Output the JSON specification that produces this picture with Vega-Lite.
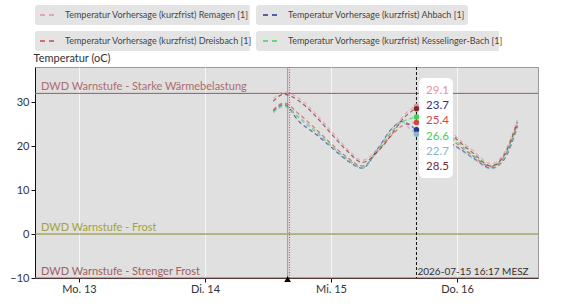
{
  "$schema": "https://vega.github.io/schema/vega-lite/v6.json",
  "width": 503,
  "height": 211,
  "autosize": {"type": "none"},
  "padding": {"left": 35, "top": 67, "right": 24, "bottom": 26},
  "background": "#ffffff",
  "config": {
    "font": "Lato",
    "view": {"fill": "#e0e0e0", "stroke": "#9a9a9a", "strokeWidth": 1},
    "axis": {"labelFont": "Lato", "titleFont": "Lato", "labelColor": "#333333", "titleColor": "#333333", "domainColor": "#111111", "tickColor": "#111111", "labelFontSize": 11, "titleFontSize": 11, "titleFontWeight": "normal", "tickSize": 4}
  },
  "datasets": {
    "forecast": [
      {"t": "2026-07-14T13:00", "Remagen": 30.8, "Serie 6": 30.2, "Dreisbach": 28.3, "Kesselinger-Bach": 27.8, "Ahbach": 28.0, "Serie 5": 27.5},
      {"t": "2026-07-14T15:00", "Remagen": 32.3, "Serie 6": 31.8, "Dreisbach": 29.8, "Kesselinger-Bach": 29.2, "Ahbach": 29.5, "Serie 5": 29.0},
      {"t": "2026-07-14T18:00", "Remagen": 30.8, "Serie 6": 30.2, "Dreisbach": 27.2, "Kesselinger-Bach": 26.5, "Ahbach": 25.5, "Serie 5": 26.2},
      {"t": "2026-07-14T21:00", "Remagen": 27.5, "Serie 6": 26.9, "Dreisbach": 24.0, "Kesselinger-Bach": 23.5, "Ahbach": 22.8, "Serie 5": 23.2},
      {"t": "2026-07-15T00:00", "Remagen": 23.5, "Serie 6": 22.9, "Dreisbach": 20.6, "Kesselinger-Bach": 20.2, "Ahbach": 19.8, "Serie 5": 20.0},
      {"t": "2026-07-15T03:00", "Remagen": 19.5, "Serie 6": 19.0, "Dreisbach": 17.5, "Kesselinger-Bach": 17.2, "Ahbach": 16.8, "Serie 5": 17.0},
      {"t": "2026-07-15T06:00", "Remagen": 16.8, "Serie 6": 16.3, "Dreisbach": 15.5, "Kesselinger-Bach": 15.2, "Ahbach": 15.0, "Serie 5": 15.0},
      {"t": "2026-07-15T09:00", "Remagen": 19.5, "Serie 6": 18.9, "Dreisbach": 19.0, "Kesselinger-Bach": 19.3, "Ahbach": 19.6, "Serie 5": 19.5},
      {"t": "2026-07-15T12:00", "Remagen": 24.0, "Serie 6": 23.4, "Dreisbach": 23.0, "Kesselinger-Bach": 23.8, "Ahbach": 24.5, "Serie 5": 24.5},
      {"t": "2026-07-15T13:30", "Remagen": 26.5, "Serie 6": 25.9, "Dreisbach": 24.6, "Kesselinger-Bach": 25.5, "Ahbach": 25.6, "Serie 5": 25.5},
      {"t": "2026-07-15T15:00", "Remagen": 28.2, "Serie 6": 27.6, "Dreisbach": 25.1, "Kesselinger-Bach": 26.2, "Ahbach": 24.8, "Serie 5": 24.0},
      {"t": "2026-07-15T16:17", "Remagen": 29.1, "Serie 6": 28.5, "Dreisbach": 25.4, "Kesselinger-Bach": 26.6, "Ahbach": 23.7, "Serie 5": 22.7},
      {"t": "2026-07-15T18:00", "Remagen": 28.3, "Serie 6": 27.8, "Dreisbach": 25.0, "Kesselinger-Bach": 26.0, "Ahbach": 23.0, "Serie 5": 22.3},
      {"t": "2026-07-15T21:00", "Remagen": 25.8, "Serie 6": 25.3, "Dreisbach": 23.4, "Kesselinger-Bach": 24.0, "Ahbach": 21.8, "Serie 5": 21.4},
      {"t": "2026-07-16T00:00", "Remagen": 22.0, "Serie 6": 21.5, "Dreisbach": 20.5, "Kesselinger-Bach": 21.0, "Ahbach": 19.8, "Serie 5": 19.6},
      {"t": "2026-07-16T03:00", "Remagen": 19.0, "Serie 6": 18.5, "Dreisbach": 17.8, "Kesselinger-Bach": 18.0, "Ahbach": 17.4, "Serie 5": 17.2},
      {"t": "2026-07-16T06:30", "Remagen": 16.0, "Serie 6": 15.5, "Dreisbach": 15.3, "Kesselinger-Bach": 15.5, "Ahbach": 15.0, "Serie 5": 14.8},
      {"t": "2026-07-16T09:00", "Remagen": 18.5, "Serie 6": 18.0, "Dreisbach": 17.5, "Kesselinger-Bach": 17.8, "Ahbach": 17.0, "Serie 5": 17.2},
      {"t": "2026-07-16T11:30", "Remagen": 26.0, "Serie 6": 25.5, "Dreisbach": 25.0, "Kesselinger-Bach": 24.8, "Ahbach": 24.5, "Serie 5": 24.0}
    ],
    "warnings": [
      {"label": "DWD Warnstufe - Starke Wärmebelastung", "value": 32},
      {"label": "DWD Warnstufe - Frost", "value": 0},
      {"label": "DWD Warnstufe - Strenger Frost", "value": -10}
    ],
    "events": [
      {"event": "Datenstand", "t": "2026-07-14T15:44", "label": ""},
      {"event": "Jetzt", "t": "2026-07-15T16:17", "label": "2026-07-15 16:17 MESZ"}
    ],
    "tooltip": [
      {"s": "Remagen", "v": 29.1, "t": "2026-07-15T16:17"},
      {"s": "Ahbach", "v": 23.7, "t": "2026-07-15T16:17"},
      {"s": "Dreisbach", "v": 25.4, "t": "2026-07-15T16:17"},
      {"s": "Kesselinger-Bach", "v": 26.6, "t": "2026-07-15T16:17"},
      {"s": "Serie 5", "v": 22.7, "t": "2026-07-15T16:17"},
      {"s": "Serie 6", "v": 28.5, "t": "2026-07-15T16:17"}
    ]
  },
  "encoding": {
    "x": {"type": "temporal",
      "scale": {"domain": [{"year": 2026, "month": 7, "date": 12, "hours": 15, "minutes": 37}, {"year": 2026, "month": 7, "date": 16, "hours": 15, "minutes": 26}]},
      "axis": {"values": [{"year": 2026, "month": 7, "date": 13}, {"year": 2026, "month": 7, "date": 14}, {"year": 2026, "month": 7, "date": 15}, {"year": 2026, "month": 7, "date": 16}],
        "labelExpr": "['So.','Mo.','Di.','Mi.','Do.','Fr.','Sa.'][day(datum.value)] + ' ' + date(datum.value)",
        "grid": true, "gridColor": "#ffffff", "gridOpacity": 0.7, "labelPadding": 1, "title": null}}
  },
  "layer": [
    {
      "data": {"name": "warnings"},
      "mark": {"type": "rule", "strokeWidth": 1},
      "encoding": {
        "x": null,
        "y": {"field": "value", "type": "quantitative", "scale": {"domain": [-10, 38], "nice": false, "zero": false},
          "axis": {"values": [-10, 0, 10, 20, 30], "grid": false, "labelPadding": 2, "title": "Temperatur (oC)", "titleAngle": 0, "titleAlign": "left", "titleX": -2, "titleY": -6, "titleBaseline": "alphabetic"}},
        "color": {"condition": [{"test": "datum.value == 32", "value": "#9e5c5c"}, {"test": "datum.value == 0", "value": "#86862e"}], "value": "#9e5c5c"}
      }
    },
    {
      "data": {"name": "warnings"},
      "mark": {"type": "text", "align": "left", "baseline": "alphabetic", "dx": 6, "dy": -3, "fontSize": 11},
      "encoding": {
        "x": {"datum": {"year": 2026, "month": 7, "date": 12, "hours": 15, "minutes": 37}, "type": "temporal"},
        "y": {"field": "value", "type": "quantitative"},
        "text": {"field": "label"},
        "color": {"condition": [{"test": "datum.value == 32", "value": "#ad6c6c"}, {"test": "datum.value == 0", "value": "#a3a23a"}], "value": "#a35e62"}
      }
    },
    {
      "data": {"name": "events"},
      "transform": [{"filter": "datum.event == 'Datenstand'"}],
      "mark": {"type": "rule", "color": "#d68aa4", "strokeWidth": 1.2},
      "encoding": {"x": {"field": "t", "type": "temporal"}}
    },
    {
      "data": {"name": "events"},
      "transform": [{"filter": "datum.event == 'Datenstand'"}],
      "mark": {"type": "rule", "color": "#a05878", "strokeWidth": 1, "strokeDash": [1, 1.5], "xOffset": 2},
      "encoding": {"x": {"field": "t", "type": "temporal"}}
    },
    {
      "data": {"name": "tooltip"},
      "transform": [{"filter": "datum.s != 'Serie 5' && datum.s != 'Serie 6'"}],
      "mark": {"type": "point", "filled": true, "opacity": 0, "color": "#e4e4e4", "size": 225},
      "encoding": {
        "x": {"field": "t", "type": "temporal"},
        "y": {"field": "v", "type": "quantitative"},
        "shape": {"field": "s", "type": "nominal",
          "scale": {"domain": ["Remagen", "Ahbach", "Dreisbach", "Kesselinger-Bach"],
            "range": [
              "M-1.133,-1.333H27Q27.4,-1.333 27.4,-0.933V0.933Q27.4,1.333 27,1.333H-1.133Q-1.533,1.333 -1.533,0.933V-0.933Q-1.533,-1.333 -1.133,-1.333Z",
              "M-1.133,-1.333H26.33Q26.73,-1.333 26.73,-0.933V0.933Q26.73,1.333 26.33,1.333H-1.133Q-1.533,1.333 -1.533,0.933V-0.933Q-1.533,-1.333 -1.133,-1.333Z",
              "M-1.133,-1.333H28.07Q28.47,-1.333 28.47,-0.933V0.933Q28.47,1.333 28.07,1.333H-1.133Q-1.533,1.333 -1.533,0.933V-0.933Q-1.533,-1.333 -1.133,-1.333Z",
              "M-1.133,-1.333H31.93Q32.33,-1.333 32.33,-0.933V0.933Q32.33,1.333 31.93,1.333H-1.133Q-1.533,1.333 -1.533,0.933V-0.933Q-1.533,-1.333 -1.133,-1.333Z"
            ]},
          "legend": {
            "orient": "none", "legendX": 0, "legendY": -62, "columns": 2, "direction": "horizontal", "title": null, "padding": 0, "zindex": 0,
            "labelExpr": "'Temperatur Vorhersage (kurzfrist) ' + datum.label + ' [1]'",
            "symbolSize": 225, "symbolStrokeWidth": 0, "symbolFillColor": "#e4e4e4", "symbolStrokeColor": "#e4e4e4", "symbolOpacity": 1, "symbolOffset": 4,
            "labelFont": "Lato", "labelFontSize": 9, "labelColor": "#e4e4e4", "labelOpacity": 0, "labelOffset": 9, "labelLimit": 400,
            "clipHeight": 20, "rowPadding": 6, "columnPadding": 6
          }}
      }
    },
    {
      "data": {"name": "forecast"},
      "transform": [{"fold": ["Remagen", "Ahbach", "Dreisbach", "Kesselinger-Bach", "Serie 5", "Serie 6"], "as": ["s", "v"]}],
      "mark": {"type": "line", "interpolate": "monotone", "strokeDash": [4, 3], "strokeWidth": 1.2, "opacity": 0.7},
      "encoding": {
        "x": {"field": "t", "type": "temporal"},
        "y": {"field": "v", "type": "quantitative"},
        "color": {"field": "s", "type": "nominal",
          "scale": {"domain": ["Remagen", "Ahbach", "Dreisbach", "Kesselinger-Bach", "Serie 5", "Serie 6"], "range": ["#e8909e", "#26348a", "#d24545", "#3fd34a", "#86b7cc", "#7a2c30"]},
          "legend": {
            "orient": "none", "legendX": 0, "legendY": -62, "columns": 2, "direction": "horizontal", "title": null, "padding": 0, "zindex": 1,
            "values": ["Remagen", "Ahbach", "Dreisbach", "Kesselinger-Bach"],
            "labelExpr": "'Temperatur Vorhersage (kurzfrist) ' + datum.label + ' [1]'",
            "symbolType": "stroke", "symbolSize": 225, "symbolStrokeWidth": 1.5, "symbolDash": [5, 4], "symbolOpacity": 0.5, "symbolOffset": 4,
            "labelFont": "Lato", "labelFontSize": 9, "labelColor": "#444444", "labelOffset": 9, "labelLimit": 400,
            "clipHeight": 20, "rowPadding": 6, "columnPadding": 6
          }}
      }
    },
    {
      "data": {"name": "events"},
      "transform": [{"filter": "datum.event == 'Jetzt'"}],
      "mark": {"type": "rule", "color": "#111111", "strokeWidth": 1, "strokeDash": [3, 2]},
      "encoding": {"x": {"field": "t", "type": "temporal"}}
    },
    {
      "data": {"name": "events"},
      "transform": [{"filter": "datum.event == 'Jetzt'"}],
      "mark": {"type": "text", "align": "left", "baseline": "alphabetic", "dx": 1, "dy": -3, "fontSize": 10, "color": "#333333"},
      "encoding": {
        "x": {"field": "t", "type": "temporal"},
        "y": {"datum": -10, "type": "quantitative"},
        "text": {"field": "label"}
      }
    },
    {
      "data": {"name": "events"},
      "transform": [{"filter": "datum.event == 'Datenstand'"}],
      "mark": {"type": "point", "shape": "triangle-up", "filled": true, "color": "#000000", "size": 45, "opacity": 1, "yOffset": 1},
      "encoding": {
        "x": {"field": "t", "type": "temporal"},
        "y": {"datum": -10, "type": "quantitative"}
      }
    },
    {
      "data": {"values": [{}]},
      "mark": {"type": "rect", "fill": "#ffffff", "cornerRadius": 5, "opacity": 0.97},
      "encoding": {
        "x": {"datum": {"year": 2026, "month": 7, "date": 15, "hours": 16, "minutes": 46}, "type": "temporal"},
        "x2": {"datum": {"year": 2026, "month": 7, "date": 15, "hours": 23, "minutes": 14}},
        "y": {"datum": 35.5, "type": "quantitative"},
        "y2": {"datum": 12.75}
      }
    },
    {
      "data": {"name": "tooltip"},
      "mark": {"type": "point", "filled": true, "size": 30, "opacity": 1},
      "encoding": {
        "x": {"field": "t", "type": "temporal"},
        "y": {"field": "v", "type": "quantitative"},
        "color": {"field": "s", "type": "nominal"}
      }
    },
    {
      "data": {"name": "tooltip"},
      "mark": {"type": "text", "align": "center", "baseline": "middle", "dx": 21, "fontSize": 11.5},
      "encoding": {
        "x": {"field": "t", "type": "temporal"},
        "y": {"datum": 32.6, "type": "quantitative"},
        "yOffset": {"field": "s", "type": "nominal", "sort": ["Remagen", "Ahbach", "Dreisbach", "Kesselinger-Bach", "Serie 5", "Serie 6"], "scale": {"type": "point", "range": [0, 76.6], "padding": 0}},
        "text": {"field": "v", "type": "quantitative", "format": ".1f"},
        "color": {"field": "s", "type": "nominal"}
      }
    }
  ]
}
